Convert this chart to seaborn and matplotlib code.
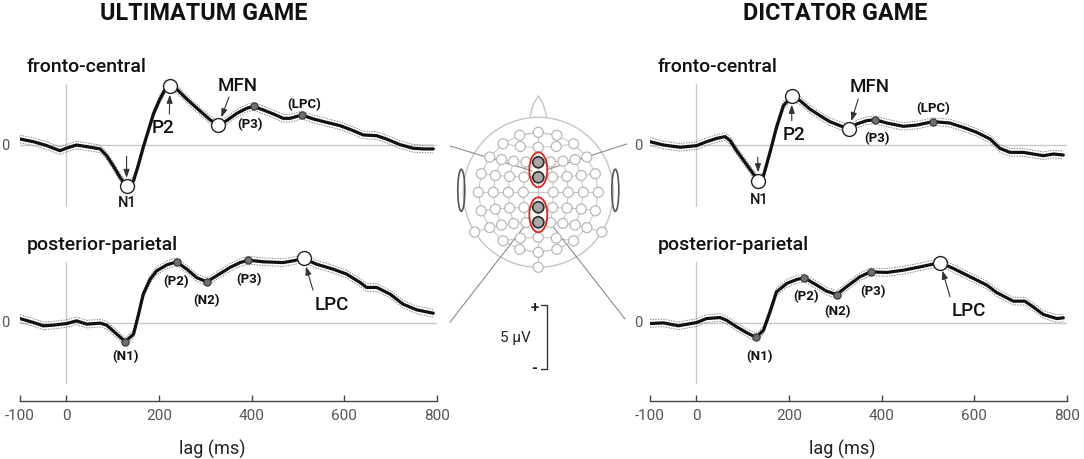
import numpy as np
import pandas as pd
import matplotlib
matplotlib.use("Agg")
import matplotlib.pyplot as plt
import seaborn as sns
from matplotlib.patches import Circle, Ellipse

# ERP grand averages: latency (ms) / amplitude (µV)
ug_fc_ms = [-100, -71, -42, -14, 1, 22, 44, 73, 87, 101, 116, 130, 145, 155, 166, 177, 188, 202, 213, 224,
            238, 260, 288, 310, 328, 346, 368, 389, 404, 425, 447, 468, 483, 508, 533, 562, 591, 619, 641, 670,
            691, 720, 749, 771, 792]
ug_fc_uv = [0.47, 0.26, -0.05, -0.45, -0.24, 0.0, -0.13, -0.31, -0.84, -1.63, -2.55, -3.25, -2.81, -1.63, -0.18,
            1.13, 2.44, 3.62, 4.36, 4.62, 4.41, 3.62, 2.70, 1.99, 1.57, 1.92, 2.49, 2.89, 3.04, 2.76, 2.44, 2.10,
            2.10, 2.36, 2.05, 1.78, 1.52, 1.13, 0.79, 0.73, 0.47, 0.03, -0.26, -0.31, -0.31]

ug_pp_ms = [-100, -71, -50, -28, 1, 22, 44, 73, 87, 105, 127, 145, 155, 166, 181, 195, 217, 238, 260, 281,
            303, 324, 353, 375, 393, 425, 468, 490, 512, 540, 576, 605, 634, 648, 670, 699, 727, 756, 792]
ug_pp_uv = [0.31, 0.0, -0.26, -0.21, -0.08, 0.13, -0.13, -0.05, -0.21, -0.79, -1.50, -0.92, 0.52, 2.23, 3.41,
            4.07, 4.54, 4.78, 4.20, 3.54, 3.20, 3.67, 4.33, 4.72, 4.91, 4.78, 4.72, 4.86, 5.04, 4.59, 4.20, 3.81,
            3.15, 2.76, 2.76, 2.23, 1.44, 1.00, 0.73]

dg_fc_ms = [-100, -71, -35, 1, 22, 44, 62, 73, 87, 105, 123, 134, 145, 159, 173, 188, 206, 224, 245, 267,
            288, 310, 329, 346, 368, 386, 411, 447, 476, 511, 547, 576, 605, 634, 655, 677, 706, 727, 749, 771, 792]
dg_fc_uv = [0.26, 0.0, -0.18, -0.05, 0.26, 0.52, 0.66, 0.34, -0.45, -1.36, -2.28, -2.81, -2.41, -0.58, 1.39,
            3.10, 3.83, 3.49, 2.83, 2.31, 1.84, 1.52, 1.26, 1.65, 1.92, 1.99, 1.73, 1.47, 1.57, 1.84, 1.73, 1.39,
            1.00, 0.47, -0.26, -0.58, -0.58, -0.71, -0.84, -0.71, -0.79]

dg_pp_ms = [-100, -71, -39, 1, 22, 51, 65, 87, 109, 129, 145, 159, 173, 195, 217, 233, 260, 281, 303, 324,
            353, 376, 411, 447, 483, 526, 555, 591, 627, 648, 684, 709, 727, 749, 778, 792]
dg_pp_uv = [-0.08, -0.03, -0.26, 0.0, 0.31, 0.39, 0.18, -0.34, -0.81, -1.18, -0.60, 0.84, 2.41, 3.07, 3.39,
            3.52, 2.94, 2.47, 2.20, 2.81, 3.60, 3.99, 3.94, 4.12, 4.38, 4.72, 4.25, 3.60, 2.94, 2.36, 1.68, 1.68,
            1.23, 0.63, 0.31, 0.37]

# half width of the dotted band (µV)
band_uv = 0.3

# components: name, latency, major (open circle), label offset (pt), arrow tail offset (pt)
ug_fc_peaks = [("N1", 130, True, (0.8, -11.5), (0, 21.6)),
               ("P2", 224, True, (-5, -29.3), (-0.6, -20)),
               ("MFN", 328, True, (14.2, 28.8), (7.7, 20.2)),
               ("(P3)", 404, False, (-2.5, -12.7), None),
               ("(LPC)", 508, False, (1.7, 8.6), None)]
ug_pp_peaks = [("(N1)", 127, False, (0, -10.3), None),
               ("(P2)", 238, False, (-0.7, -13.7), None),
               ("(N2)", 303, False, (-0.5, -12.5), None),
               ("(P3)", 393, False, (0.6, -13.2), None),
               ("LPC", 512, True, (20.3, -32.9), (6.8, -22.8))]
dg_fc_peaks = [("N1", 134, True, (0.6, -13.2), (-0.5, 17)),
               ("P2", 206, True, (1.6, -27), (0, -17.5)),
               ("MFN", 329, True, (14.8, 31.2), (6.8, 21.6)),
               ("(P3)", 386, False, (1.1, -12.7), None),
               ("(LPC)", 511, False, (0.1, 10.3), None)]
dg_pp_peaks = [("(N1)", 129, False, (2.8, -12.7), None),
               ("(P2)", 233, False, (1, -13), None),
               ("(N2)", 303, False, (0.4, -11.3), None),
               ("(P3)", 376, False, (1.6, -13.2), None),
               ("LPC", 526, True, (20.4, -34.3), (7.2, -24.7))]

tick_ms = [-100, 0, 200, 400, 600, 800]
tick_labels = ["-100", "0", "200", "400", "600", "800"]
games = ["ULTIMATUM GAME", "DICTATOR GAME"]
sites = ["fronto-central", "posterior-parietal"]
selected = ["Fz", "FCz", "CPz", "Pz"]

sns.set_theme(style="white")
plt.rcParams["font.family"] = ["Roboto", "DejaVu Sans"]
plt.rcParams["axes.unicode_minus"] = False

W, H = 1084, 460
PX_PER_UV = 12.7
fig = plt.figure(figsize=(W / 100, H / 100), dpi=100)

ov = fig.add_axes([0, 0, 1, 1], zorder=0)
ov.set_xlim(0, W)
ov.set_ylim(H, 0)
ov.axis("off")


def panel(x0, zero, ylo, yhi):
    bottom_px = zero - ylo * PX_PER_UV
    ax = fig.add_axes([x0 / W, (H - bottom_px) / H, 417 / W, (yhi - ylo) * PX_PER_UV / H], zorder=2)
    ax.patch.set_visible(False)
    ax.set_xlim(-100, 800)
    ax.set_ylim(ylo, yhi)
    for s in ax.spines.values():
        s.set_visible(False)
    ax.set_yticks([])
    return ax


def draw(ax, ms, uv, peaks):
    df = pd.DataFrame({"lag": ms, "uv": uv})
    ax.axhline(0, color="#c9c9c9", lw=1, zorder=0)
    ax.plot([0, 0], [-4.8, 4.8], color="#c9c9c9", lw=1, zorder=0)
    for sgn in (1, -1):
        ax.plot(df["lag"], df["uv"] + sgn * band_uv, color="#8a8a8a", lw=0.7, ls=(0, (1.5, 1.2)))
    sns.lineplot(data=df, x="lag", y="uv", ax=ax, color="#111111", linewidth=2.3, sort=False)
    ax.set_xlabel("")
    ax.set_ylabel("")
    for name, lat, major, loff, aoff in peaks:
        y = uv[ms.index(lat)]
        if major:
            ax.plot(lat, y, "o", ms=10, mfc="white", mec="#222222", mew=1, zorder=5)
            fs, fw = (10.5 if name == "N1" else 13.5), "medium"
        else:
            ax.plot(lat, y, "o", ms=5.2, mfc="#707070", mec="#333333", mew=0.8, zorder=5)
            fs, fw = 9.5, "bold"
        ax.annotate(name, xy=(lat, y), xytext=loff, textcoords="offset points",
                    ha="center", va="center", fontsize=fs, fontweight=fw, color="#111111")
        if aoff is not None:
            ax.annotate("", xy=(lat, y), xytext=aoff, textcoords="offset points",
                        arrowprops=dict(arrowstyle="-|>,head_length=0.5,head_width=0.18",
                                        color="#333333", lw=0.8, shrinkA=0, shrinkB=6,
                                        mutation_scale=10))


panels = [(20, ug_fc_ms, ug_fc_uv, ug_fc_peaks, False),
          (20, ug_pp_ms, ug_pp_uv, ug_pp_peaks, True),
          (650, dg_fc_ms, dg_fc_uv, dg_fc_peaks, False),
          (650, dg_pp_ms, dg_pp_uv, dg_pp_peaks, True)]
for x0, ms, uv, peaks, low in panels:
    if low:
        ax = panel(x0, 323.5, -6.2, 5.8)
        ax.spines["bottom"].set_visible(True)
        ax.spines["bottom"].set_bounds(-100, 800)
        ax.spines["bottom"].set_color("#444444")
        ax.spines["bottom"].set_linewidth(1)
        ax.set_xticks(tick_ms, tick_labels)
        ax.tick_params(axis="x", direction="in", length=4, width=1, color="#444444",
                       labelcolor="#555555", labelsize=11, pad=5, bottom=True)
    else:
        ax = panel(x0, 146, -6, 6.5)
        ax.set_xticks([])
    draw(ax, ms, uv, peaks)
    if low:
        ax.set_xlabel("lag (ms)", fontsize=13, color="#222222", va="center")
        ax.xaxis.set_label_coords(0.46, -(449 - 402.2) / (12 * PX_PER_UV))

# titles, region names and zero marks
for cx, t in zip([204, 835], games):
    ov.text(cx, 13, t, ha="center", va="center", fontsize=16.8, fontweight="bold", color="#111111")
for x0 in [27, 658]:
    ov.text(x0, 67, sites[0], ha="left", va="center", fontsize=14, fontweight="medium", color="#111111")
    ov.text(x0, 245, sites[1], ha="left", va="center", fontsize=14, fontweight="medium", color="#111111")
for zx in [5, 638]:
    for zy in [146, 323.5]:
        ov.text(zx, zy, "0", ha="center", va="center", fontsize=10.5, color="#555555")

# --- electrode map (10-10 system, azimuthal equidistant projection) ---
hx, hy, R = 538.3, 193.3, 75.0
k = R / 90.0


def sph(theta, phi):
    t, p = np.radians(theta), np.radians(phi)
    return np.array([np.sin(t) * np.sin(p), np.sin(t) * np.cos(p), np.cos(t)])


def arc(a, m, b, n):
    u, v = a - m, b - m
    w = np.cross(u, v)
    c = m + np.cross(np.dot(u, u) * v - np.dot(v, v) * u, w) / (2 * np.dot(w, w))
    r = np.linalg.norm(m - c)
    e1 = (m - c) / r
    e2 = np.cross(w / np.linalg.norm(w), e1)
    ang = lambda q: np.arctan2(np.dot(q - c, e2), np.dot(q - c, e1))
    return [c + r * (np.cos(t) * e1 + np.sin(t) * e2) for t in np.linspace(ang(a), ang(b), 2 * n + 1)]


def proj(p):
    th = np.degrees(np.arccos(np.clip(p[2], -1, 1)))
    n = np.hypot(p[0], p[1])
    if n < 1e-9:
        return hx, hy
    return hx + th * k * p[0] / n, hy - th * k * p[1] / n


rows_def = [("Fp", ["Fp1", "Fpz", "Fp2"], (72, 0), (72, 18), 1),
            ("AF", ["AF7", "AF3", "AFz", "AF4", "AF8"], (54, 0), (72, 36), 2),
            ("F", ["F7", "F5", "F3", "F1", "Fz", "F2", "F4", "F6", "F8"], (36, 0), (72, 54), 4),
            ("FC", ["FT7", "FC5", "FC3", "FC1", "FCz", "FC2", "FC4", "FC6", "FT8"], (18, 0), (72, 72), 4),
            ("C", ["T7", "C5", "C3", "C1", "Cz", "C2", "C4", "C6", "T8"], (0, 0), (72, 90), 4),
            ("CP", ["TP7", "CP5", "CP3", "CP1", "CPz", "CP2", "CP4", "CP6", "TP8"], (18, 180), (72, 108), 4),
            ("P", ["P7", "P5", "P3", "P1", "Pz", "P2", "P4", "P6", "P8"], (36, 180), (72, 126), 4),
            ("PO", ["PO7", "PO3", "POz", "PO4", "PO8"], (54, 180), (72, 144), 2),
            ("O", ["O1", "Oz", "O2"], (72, 180), (72, 162), 1)]
pos = {}
rows = []
for _, names, mid, end, n in rows_def:
    pts = arc(sph(end[0], -end[1]), sph(*mid), sph(end[0], end[1]), n)
    for nm, p in zip(names, pts):
        pos[nm] = proj(p)
    rows.append(names)
pos["TP9"] = proj(sph(90, -122))
pos["TP10"] = proj(sph(90, 122))
pos["Iz"] = proj(sph(90, 180))

grid = "#c8c8c8"
ov.add_patch(Circle((hx, hy), R, fill=False, ec="#c4c4c4", lw=1, zorder=1))
ov.plot([hx - 8.5, hx - 5, hx, hx + 5, hx + 8.5], [hy - 75, hy - 88, hy - 96.5, hy - 88, hy - 75],
        color="#c4c4c4", lw=1, zorder=1)
for ex in [hx - 77, hx + 77]:
    ov.add_patch(Ellipse((ex, hy - 2), 7, 42, fill=False, ec="#555555", lw=1.2, zorder=1))
for names in rows:
    ov.plot([pos[n][0] for n in names], [pos[n][1] for n in names], color=grid, lw=0.8, zorder=1)
for side in ["1", "3", "5", "2", "4", "6"]:
    col = [r + side for r in ["F", "FC", "C", "CP", "P"]]
    ov.plot([pos[n][0] for n in col], [pos[n][1] for n in col], color=grid, lw=0.8, zorder=1)
ring = ["Fpz", "Fp2", "AF8", "F8", "FT8", "T8", "TP8", "P8", "PO8", "O2", "Oz",
        "O1", "PO7", "P7", "TP7", "T7", "FT7", "F7", "AF7", "Fp1", "Fpz"]
ov.plot([pos[n][0] for n in ring], [pos[n][1] for n in ring], color=grid, lw=0.8, zorder=1)
mid = ["Fpz", "AFz", "Fz", "FCz", "Cz", "CPz", "Pz", "POz", "Oz", "Iz"]
ov.plot([pos[n][0] for n in mid], [pos[n][1] for n in mid], color=grid, lw=0.8, zorder=1)
ov.plot([pos["TP9"][0], pos["P7"][0]], [pos["TP9"][1], pos["P7"][1]], color=grid, lw=0.8, zorder=1)
ov.plot([pos["TP10"][0], pos["P8"][0]], [pos["TP10"][1], pos["P8"][1]], color=grid, lw=0.8, zorder=1)

# connectors from the panels to the electrode clusters
for (x1, y1), (x2, y2) in [((450, 147), (531.7, 171.7)), ((626.7, 145), (546, 171)),
                           ((450, 323.3), (530, 220)), ((625, 320), (548.3, 221.7))]:
    ov.plot([x1, x2], [y1, y2], color="#8c8c8c", lw=0.8, zorder=2)

for nm, (x, y) in pos.items():
    if nm == "Cz":
        continue
    if nm in selected:
        ov.add_patch(Circle((x, y), 5.5, fc="#a8a8a8", ec="#2b2b2b", lw=1.2, zorder=4))
    else:
        ov.add_patch(Circle((x, y), 5, fc="white", ec="#b8b8b8", lw=0.9, zorder=3))
for a, b in [("Fz", "FCz"), ("CPz", "Pz")]:
    cy = (pos[a][1] + pos[b][1]) / 2
    ov.add_patch(Ellipse((hx, cy), 18, 35, fill=False, ec="#e2231a", lw=1.3, zorder=5))

# 5 µV scale bar
sb_x, sb_top = 547.3, 306
sb_bot = sb_top + 5 * PX_PER_UV
ov.plot([sb_x - 6, sb_x, sb_x, sb_x - 6], [sb_top, sb_top, sb_bot, sb_bot], color="#333333", lw=1)
ov.text(534.5, sb_top + 2, "+", ha="center", va="center", fontsize=11, fontweight="bold", color="#222222")
ov.text(534.5, sb_bot, "-", ha="center", va="center", fontsize=11, fontweight="bold", color="#222222")
ov.text(515, (sb_top + sb_bot) / 2, "5 µV", ha="center", va="center", fontsize=11, color="#222222")

fig.savefig("out.png", dpi=100)
